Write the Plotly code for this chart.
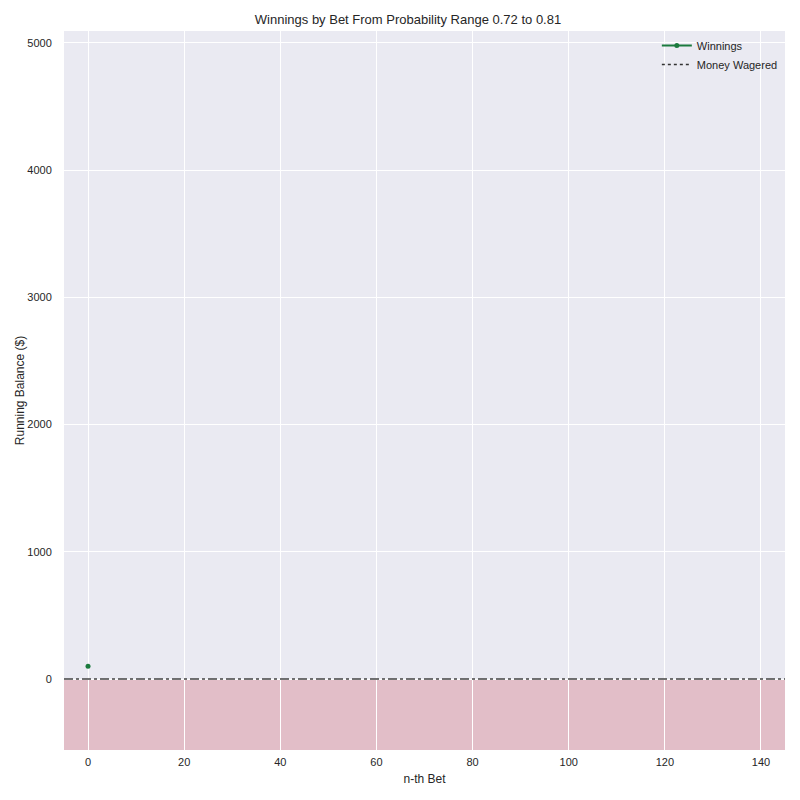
import plotly.graph_objects as go

bet_index = [0]
winnings = [100]
wagered_index = [0]
money_wagered = [0]

x_range = [-5, 145]
y_range = [-558, 5094]
x_ticks = [0, 20, 40, 60, 80, 100, 120, 140]
y_ticks = [0, 1000, 2000, 3000, 4000, 5000]

fig = go.Figure()

# red shaded region below zero
fig.add_shape(type="rect", xref="paper", yref="y", x0=0, x1=1, y0=y_range[0], y1=0,
              fillcolor="#e2bec8", line_width=0, layer="below")

fig.add_trace(go.Scatter(x=bet_index, y=winnings, mode="lines+markers", name="Winnings",
                         line=dict(color="#1b7a3e", width=2.2),
                         marker=dict(color="#1b7a3e", size=5)))
fig.add_trace(go.Scatter(x=wagered_index, y=money_wagered, mode="lines", name="Money Wagered",
                         line=dict(color="#333333", width=1.4, dash="dot")))

fig.add_shape(type="line", xref="paper", yref="y", x0=0, x1=1, y0=0, y1=0,
              line=dict(color="#444444", width=1.4, dash="dashdot"))

fig.update_layout(
    width=800, height=800,
    paper_bgcolor="white", plot_bgcolor="#eaeaf2",
    margin=dict(l=56, r=23, t=23, b=58),
    title=dict(text="Winnings by Bet From Probability Range 0.72 to 0.81", x=0.5, xanchor="center",
               yref="container", y=1 - 11 / 800, yanchor="middle", font=dict(size=13, color="#262626")),
    font=dict(family="Liberation Sans, Arial, sans-serif", size=11, color="#262626"),
    showlegend=True,
    legend=dict(x=0.997, y=1.0, xanchor="right", yanchor="top", bgcolor="rgba(0,0,0,0)",
                font=dict(size=11, color="#262626")),
    xaxis=dict(range=x_range, tickvals=x_ticks, showgrid=True, gridcolor="white", gridwidth=1,
               zeroline=False, showline=False, ticks="outside", ticklen=2, tickcolor="rgba(0,0,0,0)",
               automargin=False,
               title=dict(text="n-th Bet", font=dict(size=12), standoff=7)),
    yaxis=dict(range=y_range, tickvals=y_ticks, showgrid=True, gridcolor="white", gridwidth=1,
               zeroline=False, showline=False, ticks="outside", ticklen=9, tickcolor="rgba(0,0,0,0)",
               automargin=False,
               title=dict(text="Running Balance ($)", font=dict(size=12), standoff=0)),
)

fig.write_html("out.html")
